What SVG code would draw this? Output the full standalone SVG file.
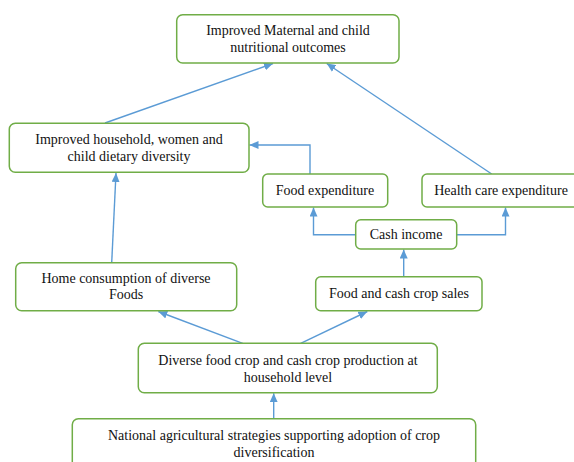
<svg xmlns="http://www.w3.org/2000/svg" width="574" height="462" viewBox="0 0 574 462">
<style>
.box{fill:#fff;stroke:#70AD47;stroke-width:1.5}
.t{font-family:"Liberation Serif","Times New Roman",serif;font-size:14px;fill:#111;text-anchor:middle}
.c{fill:none;stroke:#5B9BD5;stroke-width:1.4}
</style>
<defs>
<marker id="ah" markerUnits="userSpaceOnUse" markerWidth="10" markerHeight="8" refX="9" refY="4" orient="auto">
<path d="M0,0 L9,4 L0,8 Z" fill="#5B9BD5"/>
</marker>
</defs>
<rect width="574" height="462" fill="#fff"/>
<g id="connectors">
<line class="c" x1="105" y1="123" x2="273" y2="63.5" marker-end="url(#ah)"/>
<line class="c" x1="491.7" y1="174" x2="326.7" y2="63.5" marker-end="url(#ah)"/>
<polyline class="c" points="310,174 310,145 249.5,145" marker-end="url(#ah)"/>
<line class="c" x1="111.7" y1="262.7" x2="116" y2="173" marker-end="url(#ah)"/>
<polyline class="c" points="356,234.7 313.5,234.7 313.5,207.5" marker-end="url(#ah)"/>
<polyline class="c" points="457,234.7 505.5,234.7 505.5,207.5" marker-end="url(#ah)"/>
<line class="c" x1="403.7" y1="276.7" x2="403.7" y2="249.5" marker-end="url(#ah)"/>
<line class="c" x1="242.7" y1="343.3" x2="158.3" y2="311.5" marker-end="url(#ah)"/>
<line class="c" x1="300.7" y1="343.3" x2="367.3" y2="311.5" marker-end="url(#ah)"/>
<line class="c" x1="273.7" y1="418.7" x2="273.7" y2="393.2" marker-end="url(#ah)"/>
</g>
<g id="n-outcomes">
<rect class="box" x="176.7" y="14.7" width="222.3" height="48.3" rx="6"/>
<text class="t" x="288" y="35">Improved Maternal and child</text>
<text class="t" x="288" y="51.7">nutritional outcomes</text>
</g>
<g id="n-diversity">
<rect class="box" x="9.3" y="123.3" width="239.7" height="49" rx="6"/>
<text class="t" x="129" y="144">Improved household, women and</text>
<text class="t" x="129" y="160.5">child dietary diversity</text>
</g>
<g id="n-foodexp">
<rect class="box" x="262.7" y="174" width="125" height="33" rx="5"/>
<text class="t" x="325" y="194.5">Food expenditure</text>
</g>
<g id="n-healthexp">
<rect class="box" x="422" y="174" width="158" height="33" rx="5"/>
<text class="t" x="501" y="194.5">Health care expenditure</text>
</g>
<g id="n-cash">
<rect class="box" x="355.7" y="219.7" width="101" height="29.3" rx="5"/>
<text class="t" x="406" y="239">Cash income</text>
</g>
<g id="n-home">
<rect class="box" x="15.7" y="262.7" width="221" height="48" rx="6"/>
<text class="t" x="126" y="282.5">Home consumption of diverse</text>
<text class="t" x="126" y="299">Foods</text>
</g>
<g id="n-sales">
<rect class="box" x="315.7" y="276.7" width="166.3" height="34" rx="5"/>
<text class="t" x="399" y="297.5">Food and cash crop sales</text>
</g>
<g id="n-production">
<rect class="box" x="138.3" y="343.3" width="299" height="49.4" rx="6"/>
<text class="t" x="288" y="365">Diverse food crop and cash crop production at</text>
<text class="t" x="288" y="381.7">household level</text>
</g>
<g id="n-national">
<rect class="box" x="72.3" y="418.7" width="403.4" height="50" rx="6"/>
<text class="t" x="274" y="440">National agricultural strategies supporting adoption of crop</text>
<text class="t" x="274" y="456.7">diversification</text>
</g>
</svg>
